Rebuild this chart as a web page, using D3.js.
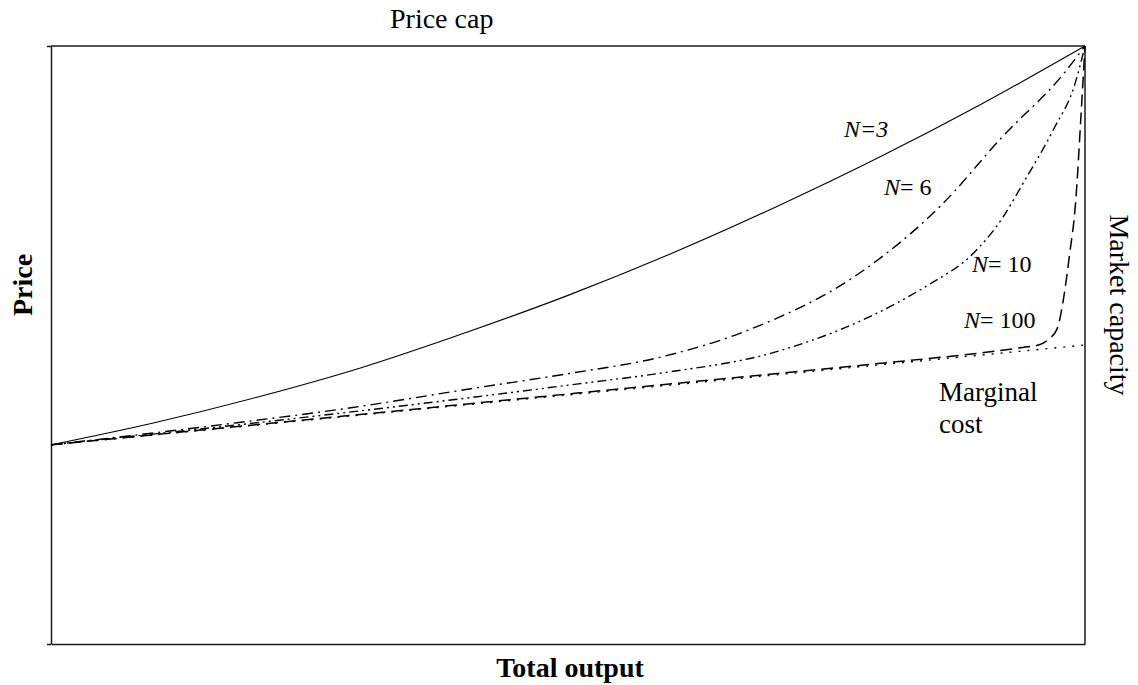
<!DOCTYPE html>
<html>
<head>
<meta charset="utf-8">
<script src="https://cdn.jsdelivr.net/npm/d3@7/dist/d3.min.js"></script>
<style>
  html, body { margin: 0; padding: 0; background: #fff; }
  svg { display: block; font-family: "Liberation Serif", "Times New Roman", serif; }
</style>
</head>
<body>
<svg id="chart" width="1138" height="685"></svg>
<script>
// Output as share of market capacity (0..1), price as share of price cap (0..1)
const mcOutput   = [0, 1];
const mcPrice    = [0.333, 0.5];

const n3Output   = [0, 0.1, 0.2, 0.3, 0.4, 0.5, 0.6, 0.7, 0.8, 0.9, 1];
const n3Price    = [0.333, 0.370, 0.413, 0.462, 0.520, 0.583, 0.653, 0.730, 0.813, 0.903, 1];

const n6Output   = [0, 0.18, 0.29, 0.41, 0.50, 0.59, 0.67, 0.79, 0.86, 0.92, 0.98, 1];
const n6Price    = [0.333, 0.370, 0.395, 0.428, 0.452, 0.480, 0.522, 0.630, 0.732, 0.848, 0.955, 1];

const n10Output  = [0, 0.24, 0.41, 0.51, 0.59, 0.70, 0.82, 0.85, 0.89, 0.92, 0.94, 0.97, 0.99, 1];
const n10Price   = [0.333, 0.378, 0.413, 0.435, 0.453, 0.488, 0.572, 0.602, 0.650, 0.712, 0.770, 0.862, 0.935, 1];

const n100Output = [0, 0.2, 0.4, 0.6, 0.8, 0.9, 0.94, 0.955, 0.965, 0.973, 0.979, 0.985, 0.991, 0.996, 1];
const n100Price  = [0.333, 0.367, 0.401, 0.435, 0.469, 0.487, 0.496, 0.500, 0.510, 0.527, 0.575, 0.650, 0.740, 0.880, 1];

const series = [
  { name: "MC",   xs: mcOutput,   ys: mcPrice,   dash: "2,7",            width: 1.4 },
  { name: "N3",   xs: n3Output,   ys: n3Price,   dash: null,             width: 1.1 },
  { name: "N6",   xs: n6Output,   ys: n6Price,   dash: "11,5,2,5",       width: 1.4 },
  { name: "N10",  xs: n10Output,  ys: n10Price,  dash: "9,4,2,4,2,4",    width: 1.4 },
  { name: "N100", xs: n100Output, ys: n100Price, dash: "12,6",           width: 1.5 }
];

const svg = d3.select("#chart");
const x = d3.scaleLinear().domain([0, 1]).range([51, 1085]);
const y = d3.scaleLinear().domain([0, 1]).range([644, 46]);

// Axes / frame
const frameColor = "#1a1a1a";
svg.append("g")
  .attr("transform", `translate(${x(0)},0)`)
  .call(d3.axisLeft(y).tickValues([0, 1]).tickSize(4).tickSizeOuter(0).tickFormat(""))
  .call(g => g.selectAll("path, line").attr("stroke", frameColor).attr("stroke-width", 1.5));

svg.append("g")
  .attr("transform", `translate(0,${y(0)})`)
  .call(d3.axisBottom(x).tickValues([]).tickSizeOuter(0))
  .call(g => g.selectAll("path").attr("stroke", frameColor).attr("stroke-width", 1.5));

svg.append("line")
  .attr("x1", x(0)).attr("x2", x(1)).attr("y1", y(1)).attr("y2", y(1))
  .attr("stroke", frameColor).attr("stroke-width", 1.5);
svg.append("line")
  .attr("x1", x(1)).attr("x2", x(1)).attr("y1", y(1)).attr("y2", y(0))
  .attr("stroke", frameColor).attr("stroke-width", 1.5);

// Curves
const line = d3.line()
  .x(d => x(d[0]))
  .y(d => y(d[1]))
  .curve(d3.curveMonotoneX);

series.forEach(s => {
  const pts = s.xs.map((v, i) => [v, s.ys[i]]);
  svg.append("path")
    .datum(pts)
    .attr("d", line)
    .attr("fill", "none")
    .attr("stroke", "#000")
    .attr("stroke-width", s.width)
    .attr("stroke-dasharray", s.dash);
});

// Texts
svg.append("text").attr("x", 390).attr("y", 28)
  .attr("font-size", 28).text("Price cap");

svg.append("text")
  .attr("transform", "translate(32,285) rotate(-90)")
  .attr("text-anchor", "middle").attr("font-size", 28).attr("font-weight", "bold")
  .text("Price");

svg.append("text")
  .attr("x", 570).attr("y", 677)
  .attr("text-anchor", "middle").attr("font-size", 28).attr("font-weight", "bold")
  .text("Total output");

svg.append("text")
  .attr("transform", "translate(1110,305) rotate(90)")
  .attr("text-anchor", "middle").attr("font-size", 28)
  .text("Market capacity");

const nLabels = [
  { x: 844, y: 137, n: "N", rest: "=3", italicAll: true },
  { x: 884, y: 195, n: "N", rest: "= 6" },
  { x: 972, y: 272, n: "N", rest: "= 10" },
  { x: 964, y: 328, n: "N", rest: "= 100" }
];
nLabels.forEach(l => {
  const t = svg.append("text").attr("x", l.x).attr("y", l.y).attr("font-size", 24);
  t.append("tspan").attr("font-style", "italic").text(l.n);
  t.append("tspan").attr("font-style", l.italicAll ? "italic" : "normal").text(l.rest);
});

svg.append("text").attr("x", 939).attr("y", 401).attr("font-size", 27).text("Marginal");
svg.append("text").attr("x", 939).attr("y", 433).attr("font-size", 27).text("cost");
</script>
</body>
</html>
